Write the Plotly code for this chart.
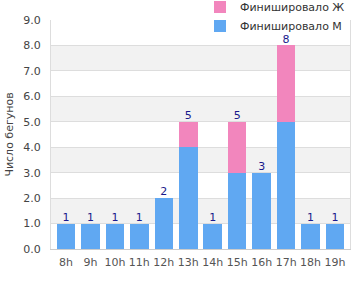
import plotly.graph_objects as go

hours = ["8h", "9h", "10h", "11h", "12h", "13h", "14h", "15h", "16h", "17h", "18h", "19h"]
men = [1, 1, 1, 1, 2, 4, 1, 3, 3, 5, 1, 1]
women = [0, 0, 0, 0, 0, 1, 0, 2, 0, 3, 0, 0]
totals = [m + w for m, w in zip(men, women)]
y_ticks = [i for i in range(0, 10)]

blue = "#60a8f2"
pink = "#f286bd"

fig = go.Figure()
fig.add_trace(go.Bar(x=hours, y=men, name="Финишировало М", marker=dict(color=blue, line=dict(width=0))))
fig.add_trace(go.Bar(x=hours, y=women, name="Финишировало Ж", marker=dict(color=pink, line=dict(width=0))))
fig.add_trace(go.Scatter(x=hours, y=totals, mode="text", text=[str(t) for t in totals],
                         textposition="top center", textfont=dict(color="#1a1a8c", size=11),
                         showlegend=False, hoverinfo="skip", cliponaxis=False))

shapes = []
for k in range(1, 9, 2):
    shapes.append(dict(type="rect", xref="paper", yref="y", x0=0, x1=1, y0=k, y1=k + 1,
                       fillcolor="#f2f2f2", line=dict(width=0), layer="below"))
fig.update_layout(
    width=360, height=300,
    margin=dict(l=51, r=10, t=20, b=51, autoexpand=False),
    barmode="stack", bargap=0.24,
    plot_bgcolor="white", paper_bgcolor="white",
    font=dict(family="DejaVu Sans", size=11, color="#444"),
    shapes=shapes,
    showlegend=True,
    legend=dict(traceorder="reversed", x=1, xanchor="right", y=1.12, yanchor="top",
                bgcolor="rgba(255,255,255,0)", font=dict(size=11, color="#333"),
                itemwidth=30, tracegroupgap=0),
    xaxis=dict(showgrid=False, showline=True, linecolor="#ccc", linewidth=1, mirror=False,
               ticks="", ticklabelstandoff=3, tickfont=dict(size=11, color="#555")),
    yaxis=dict(range=[0, 9], tickvals=y_ticks, ticktext=[f"{v:.1f}" for v in y_ticks],
               showgrid=True, gridcolor="#ddd", gridwidth=1, zeroline=False,
               showline=True, linecolor="#ddd", mirror=True,
               ticklabelstandoff=7,
               tickfont=dict(size=11, color="#444"),
               title=dict(text="Число бегунов", font=dict(size=11, color="#444"), standoff=7)),
)
fig.write_html("out.html")
